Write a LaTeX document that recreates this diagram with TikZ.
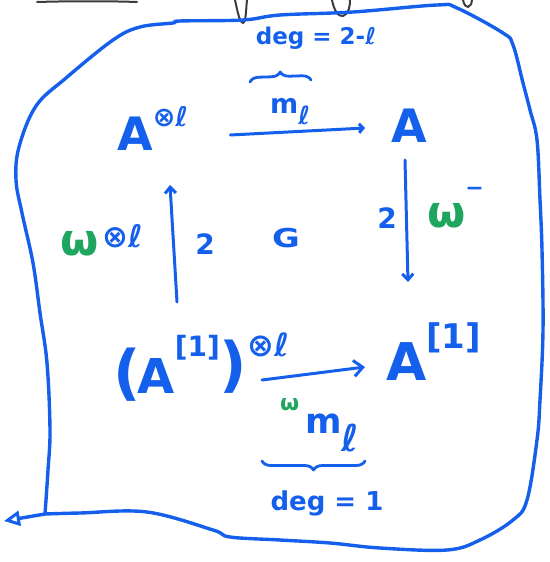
\documentclass[tikz,border=0pt]{standalone}
\usepackage{fontspec}
\setmainfont{DejaVu Sans}
\usetikzlibrary{arrows.meta,decorations.pathreplacing,calc}
\definecolor{inkblue}{RGB}{20,95,235}
\definecolor{inkgreen}{RGB}{30,165,95}
\definecolor{inkblack}{RGB}{60,60,60}
\newcommand{\fs}[1]{\fontsize{#1}{#1}\selectfont}
\begin{document}
\begin{tikzpicture}[x=1pt,y=-1pt,
  ink/.style={draw=inkblue, line width=3.4pt, line cap=round, line join=round},
  pen/.style={draw=inkblack, line width=2pt, line cap=round},
  txt/.style={inner sep=0pt, text=inkblue, font=\bfseries},
  arr/.style={ink, line width=3pt, -{Straight Barb[length=6pt,width=11pt]}},
  brc/.style={ink, line width=2.8pt, decorate, decoration={brace, amplitude=9pt}},
]
\useasboundingbox (0,0) rectangle (549,562);

% black fragments at the top edge
\draw[pen] (37,2) .. controls (70,1) and (110,1) .. (137,2);
\draw[pen] (235,0) .. controls (238,14) and (240,23) .. (243,23) .. controls (246,22) and (246,9) .. (247,0);
\draw[pen] (332,0) .. controls (334,10) and (338,17) .. (343,16) .. controls (349,14) and (350,6) .. (350,0);
\draw[pen] (463,0) .. controls (464,5) and (466,7) .. (468,7) .. controls (471,6) and (472,3) .. (472,0);

% outline
\coordinate (corner) at (45,514);
\coordinate (exit) at (4,521);
\draw[ink] plot[smooth, tension=0.6] coordinates {
 (45,514) (48,470) (50,430) (47,363) (40,313) (33,263) (22,213) (16,180) (19,147)
 (36,106) (66,78) (113,40) (140,27) (173,23) (180,21) (243,20) (280,15) (353,12)
 (437,5) (457,8) (503,33) (513,45) (523,83) (530,110) (537,140) (540,200) (542,250)
 (543,330) (540,400) (537,440) (527,500) (513,520) (480,540) (447,550) (380,548)
 (330,543) (280,540) (230,537) (213,530) (147,512) (80,513) (45,514)};
\draw[ink, -{Triangle[open, length=16pt, width=15pt, line width=3pt]}] (corner) -- (exit);

% corner objects
\node[txt, anchor=base west] (TL) at (117,150) {\fs{46}A\raisebox{24pt}{\fs{27}⊗ℓ}};
\node[txt, anchor=base west] (TR) at (391,142) {\fs{46}A};
\node[txt, anchor=base west] (BL) at (113,393) {\fs{60}(\kern-3pt\fs{48}A\raisebox{37pt}{\fs{28}[1]}\raisebox{8pt}{\fs{60})}\raisebox{37pt}{\fs{32}⊗ℓ}};
\node[txt, anchor=base west] (BR) at (386,380) {\fs{52}A\raisebox{32pt}{\fs{34}[1]}};

% arrows
\draw[arr, -{Straight Barb[length=4pt,width=9pt]}] ([xshift=42pt,yshift=15pt]TL.base east) -- ([xshift=-26pt,yshift=14pt]TR.base west);
\draw[arr] ([xshift=64pt,yshift=91pt]BL.base west) -- ([xshift=53pt,yshift=-35pt]TL.base west);
\draw[arr] ([xshift=14pt,yshift=-18pt]TR.base west) -- ([xshift=22pt,yshift=98pt]BR.base west);
\draw[arr, -{Straight Barb[length=9pt,width=16pt]}] ([xshift=149pt,yshift=13pt]BL.base west) -- ([xshift=-21pt,yshift=13pt]BR.base west);

% labels
\node[txt, anchor=base west] (mtop) at (270,113) {\fs{27}m\raisebox{-11pt}{\fs{25}ℓ}};
\node[txt, anchor=base west] (mbot) at (280,433) {\raisebox{23pt}{\fs{22}\color{inkgreen}ω}\kern6pt\fs{35}m\raisebox{-18pt}{\fs{37}ℓ}};
\node[txt, anchor=base] (degtop) at (316,44) {\fs{23}deg = 2-ℓ};
\node[txt, anchor=base] (degbot) at (327,510) {\fs{26}deg = 1};
\draw[brc] (250,82) -- (311,80);
\draw[brc] (365,461) -- (262,461);
\node[txt] (twoL) at (205,244) {\fs{28}2};
\node[txt] (G) at (286,238) {\fs{26}\scalebox{1.3}[1]{G}};
\node[txt] (twoR) at (387,218) {\fs{28}2};
\node[txt, anchor=base west] (wR) at (427,227) {{\fs{44}\color{inkgreen}ω}\raisebox{32pt}{\fs{22}−}};
\node[txt, anchor=base west] (wL) at (60,255) {{\fs{44}\color{inkgreen}ω}\kern4pt\raisebox{8pt}{\fs{31}⊗ℓ}};
\end{tikzpicture}
\end{document}
